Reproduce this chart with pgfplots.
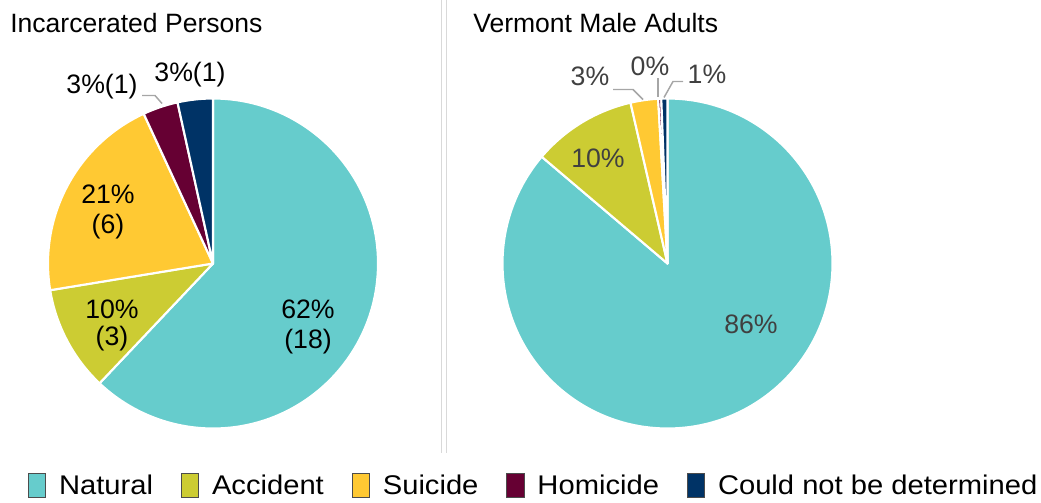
\documentclass[border=0pt]{standalone}
\usepackage{fontspec}
\setmainfont{Liberation Sans}
\newfontfamily\legendfont[FakeStretch=1.08]{Liberation Sans}
\usepackage{pgfplots}
\usepackage{pgfplotstable}
\pgfplotsset{compat=1.18}

\definecolor{cNatural}{HTML}{66CCCC}
\definecolor{cAccident}{HTML}{CCCC33}
\definecolor{cSuicide}{HTML}{FFC933}
\definecolor{cHomicide}{HTML}{660033}
\definecolor{cCNBD}{HTML}{003366}
\definecolor{lbltwo}{HTML}{404040}
\definecolor{leader}{HTML}{A6A6A6}
\definecolor{divider}{HTML}{D9D9D9}

% Incarcerated persons: number of deaths by cause
\pgfplotstableread{
cause value
Natural 18
Accident 3
Suicide 6
Homicide 1
CNBD 1
}\incarcerated

% Vermont male adults: percent of deaths by cause
\pgfplotstableread{
cause value
Natural 86.2
Accident 10.2
Suicide 2.7
Homicide 0.3
CNBD 0.6
}\vermont

\newcommand\piecolor[1]{\ifcase#1 cNatural\or cAccident\or cSuicide\or cHomicide\or cCNBD\fi}

% #1 table, #2 centre x, #3 centre y, #4 total
\newcommand\drawpie[4]{%
  \def\cumangle{90}%
  \pgfplotsforeachungrouped \i in {0,1,2,3,4}{%
    \pgfplotstablegetelem{\i}{value}\of{#1}%
    \pgfmathsetmacro\sweep{\pgfplotsretval/#4*360}%
    \pgfmathsetmacro\endangle{\cumangle-\sweep}%
    \edef\col{\piecolor{\i}}%
    \edef\cmd{\noexpand\fill[\col, draw=white, line width=1.6pt, line join=round] (axis cs:#2,#3) -- ++(\cumangle:123.75pt) arc[start angle=\cumangle, end angle=\endangle, radius=123.75pt] -- cycle;}%
    \cmd
    \global\let\cumangle\endangle
  }}

\begin{document}
\begin{tikzpicture}
\begin{axis}[
  width=780.75pt, height=376.5pt, scale only axis,
  xmin=0, xmax=1041, ymin=0, ymax=502,
  hide axis, clip=false,
  legend image code/.code={\draw[#1, draw=black!70, line width=0.75pt] (0pt,-8.5pt) rectangle (13pt,9.5pt);},
  legend columns=5,
  legend style={
    at={(axis cs:28,17)}, anchor=west,
    draw=none, fill=none, inner sep=0pt, outer sep=0pt,
    nodes={inner sep=0pt},
    font=\legendfont\fontsize{20.25}{24}\selectfont,
    /tikz/every odd column/.append style={column sep=9.5pt},
    /tikz/every even column/.append style={column sep=21pt},
  },
]
\path (axis cs:0,0) rectangle (axis cs:1041,502);

\drawpie{\incarcerated}{213}{239}{29}
\drawpie{\vermont}{667.5}{239}{100}

% divider
\draw[divider, line width=0.75pt] (axis cs:441,50) -- (axis cs:441,502);
\draw[divider, line width=0.75pt] (axis cs:446,50) -- (axis cs:446,502);

% titles
\node[anchor=base west, inner sep=0pt, font=\fontsize{19.9}{24}\selectfont] at (axis cs:10,470) {Incarcerated Persons};
\node[anchor=base west, inner sep=0pt, font=\fontsize{19.9}{24}\selectfont] at (axis cs:473,470) {Vermont Male Adults};

% labels, left pie
\begin{scope}[every node/.style={anchor=base, inner sep=0pt, font=\fontsize{20}{24}\selectfont, text=black}]
\node at (axis cs:308,184) {62\%};
\node at (axis cs:308,154) {(18)};
\node at (axis cs:112,184) {10\%};
\node at (axis cs:112,157) {(3)};
\node at (axis cs:108,299) {21\%};
\node at (axis cs:108,269) {(6)};
\node at (axis cs:102,409) {3\%(1)};
\node at (axis cs:190,421) {3\%(1)};
\end{scope}
\draw[leader, line width=1.1pt] (axis cs:142,407) -- (axis cs:155,407) -- (axis cs:162,399);

% labels, right pie
\begin{scope}[every node/.style={anchor=base, inner sep=0pt, font=\fontsize{20}{24}\selectfont, text=lbltwo}]
\node at (axis cs:751,169) {86\%};
\node at (axis cs:598,335) {10\%};
\node at (axis cs:590,417) {3\%};
\node at (axis cs:650,427) {0\%};
\node at (axis cs:707,419) {1\%};
\end{scope}
\draw[leader, line width=1.1pt] (axis cs:613,413) -- (axis cs:633,413) -- (axis cs:643,403);
\draw[leader, line width=1.1pt] (axis cs:658,424) -- (axis cs:658,405);
\draw[leader, line width=1.1pt] (axis cs:683,421) -- (axis cs:673,421) -- (axis cs:664,405);

% legend
\addlegendimage{fill=cNatural}
\addlegendentry{Natural}
\addlegendimage{fill=cAccident}
\addlegendentry{Accident}
\addlegendimage{fill=cSuicide}
\addlegendentry{Suicide}
\addlegendimage{fill=cHomicide}
\addlegendentry{Homicide}
\addlegendimage{fill=cCNBD}
\addlegendentry{Could not be determined}
\end{axis}
\end{tikzpicture}
\end{document}
